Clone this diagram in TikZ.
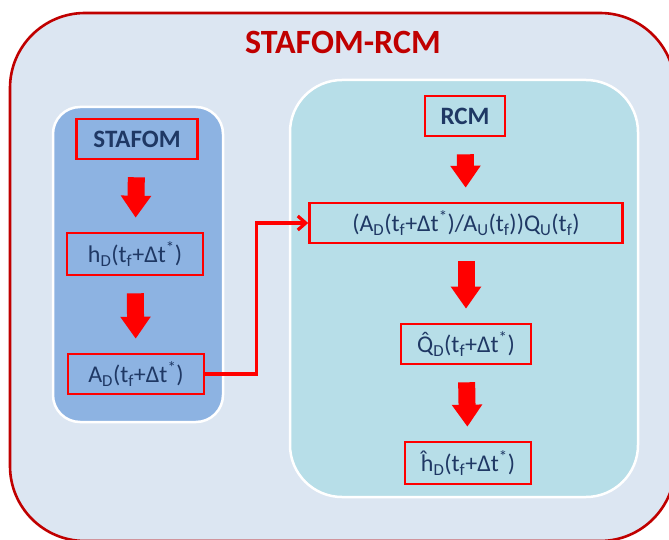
\documentclass[tikz,border=0pt]{standalone}
\usepackage{fontspec}
\setmainfont{Carlito}
\usetikzlibrary{arrows.meta,calc}

\definecolor{framered}{HTML}{C00000}
\definecolor{framefill}{HTML}{DCE6F2}
\definecolor{leftfill}{HTML}{8DB3E2}
\definecolor{rightfill}{HTML}{B7DEE8}
\definecolor{navy}{HTML}{1F3864}
\definecolor{boxred}{HTML}{FF0000}

% small helpers for the formula labels
\newcommand\sbs[1]{\textsubscript{#1}}
\newcommand\sps[1]{\textsuperscript{#1}}
\newcommand\tfdt{(t\sbs{f}+Δt\sps{*})}

\begin{document}
\begin{tikzpicture}[x=1pt,y=-1pt,
  panel/.style={draw=white,line width=2.5pt},
  stepbox/.style={draw=boxred,line width=2.6pt,inner sep=0pt,
    minimum height=40pt,text=navy,font=\fontsize{24}{28}\selectfont},
  titlebox/.style={stepbox,font=\bfseries\fontsize{25}{28}\selectfont},
  fatarrow/.style={draw=boxred,line width=17pt,
    -{Triangle[width=29pt,length=22pt]},shorten <=17pt,shorten >=14pt},
  link/.style={draw=boxred,line width=3.2pt,
    -{Straight Barb[width=14pt,length=8pt,line width=3.2pt]}}]

\useasboundingbox (0,0) rectangle (669,540);
\clip (0,0) rectangle (669,540);

% outer frame and the two panels
\draw[draw=framered,fill=framefill,line width=2.6pt,rounded corners=75pt]
  (10,13) rectangle (675,541);
\node[text=framered,font=\bfseries\fontsize{34}{38}\selectfont] (title) at (343,42) {STAFOM-RCM};

\draw[panel,fill=leftfill,rounded corners=27pt] (53,107) rectangle (223,422);
\draw[panel,fill=rightfill,rounded corners=52pt] (290,80) rectangle (638,497);

% left column
\node[titlebox,minimum width=121pt] (stafom) at (137,139) {STAFOM};
\node[stepbox,minimum width=136pt,minimum height=42pt] (hd) at (135,254) {h\sbs{D}\tfdt};
\node[stepbox,minimum width=136pt] (ad) at (136,374) {A\sbs{D}\tfdt};

% right column
\node[titlebox,minimum width=80pt] (rcm) at (465,116) {RCM};
\node[stepbox,minimum width=313pt] (ratio) at (466,223)
  {(A\sbs{D}\tfdt/A\sbs{U}(t\sbs{f}))Q\sbs{U}(t\sbs{f})};
\node[stepbox,minimum width=130pt] (qd) at (466,344) {\accent"02C6 Q\sbs{D}\tfdt};
\node[stepbox,minimum width=126pt,minimum height=42pt] (hhat) at (468,463) {ĥ\sbs{D}\tfdt};

% flow arrows
\draw[fatarrow] (stafom) -- (hd);
\draw[fatarrow] (hd) -- (ad);
\draw[fatarrow] (rcm) -- (ratio);
\draw[fatarrow] (ratio) -- (qd);
\draw[fatarrow] (qd) -- (hhat);

% hand-over from STAFOM to RCM
\draw[link] (ad.east) -| ($(ad.east)!0.5!(ratio.west)$) |- (ratio.west);
\end{tikzpicture}
\end{document}
